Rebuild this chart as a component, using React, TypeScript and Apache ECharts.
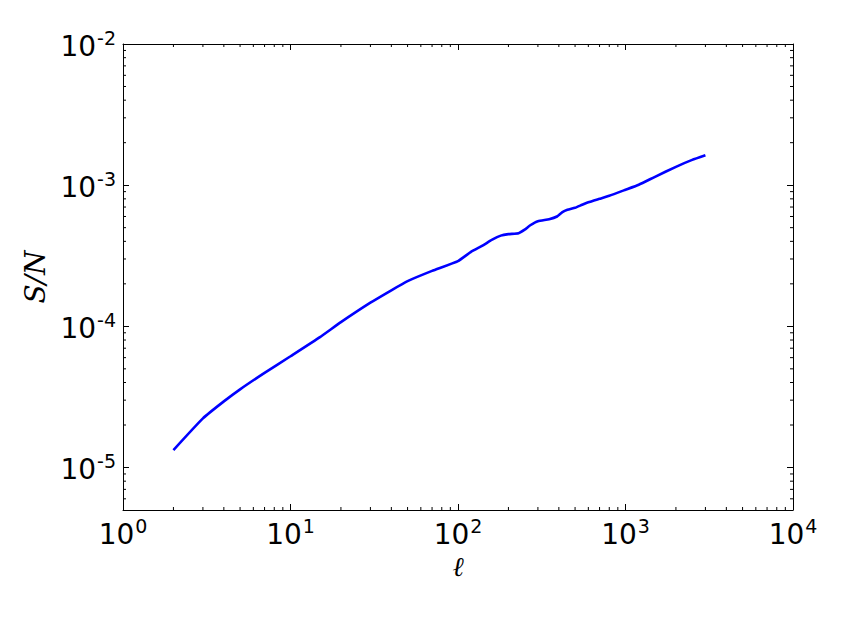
import React, { useEffect, useRef } from "react";
import * as echarts from "echarts";

const ELL = [2, 3, 4, 5, 7, 10, 15, 20, 30, 40, 50, 70, 100, 120, 140, 160, 180, 200, 230, 250, 270, 300, 350, 390, 420, 450, 500, 550, 600, 700, 800, 1000, 1200, 1500, 2000, 2500, 3000];
const SN = [1.33e-5, 2.23e-5, 2.94e-5, 3.58e-5, 4.68e-5, 6.14e-5, 8.39e-5, 1.07e-4, 1.47e-4, 1.8e-4, 2.09e-4, 2.47e-4, 2.9e-4, 3.38e-4, 3.73e-4, 4.11e-4, 4.39e-4, 4.5e-4, 4.57e-4, 4.84e-4, 5.2e-4, 5.56e-4, 5.74e-4, 6.0e-4, 6.45e-4, 6.7e-4, 6.92e-4, 7.26e-4, 7.57e-4, 8.01e-4, 8.41e-4, 9.28e-4, 1.007e-3, 1.146e-3, 1.349e-3, 1.51e-3, 1.63e-3];

const X_MIN = 1;
const X_MAX = 1e4;
const Y_MIN = 5e-6;
const Y_MAX = 1e-2;

const X_MINOR: number[] = [];
for (let k = 0; k < 4; k++) for (let m = 2; m <= 9; m++) X_MINOR.push(m * Math.pow(10, k));
const Y_MINOR: number[] = [];
for (let k = -6; k < -2; k++)
  for (let m = 2; m <= 9; m++) {
    const v = m * Math.pow(10, k);
    if (v > Y_MIN * 1.0001 && v < Y_MAX) Y_MINOR.push(v);
  }

function pow10Label(v: number) {
  const e = Math.log10(v);
  const r = Math.round(e);
  if (Math.abs(e - r) > 1e-6) return "";
  return "{b|10}{s|" + r + "}";
}

const richLabel = {
  b: { fontSize: 28, fontFamily: "DejaVu Sans", color: "#000", verticalAlign: "bottom", lineHeight: 32 },
  s: { fontSize: 19, fontFamily: "DejaVu Sans", color: "#000", verticalAlign: "top", lineHeight: 20, padding: [0, 0, 0, 1] },
};

export default function App() {
  const ref = useRef<HTMLDivElement>(null);
  useEffect(() => {
    document.body.style.margin = "0";
    const chart = echarts.init(ref.current!, null, { renderer: "svg" });
    const axisLine = { show: true, lineStyle: { color: "#000", width: 1 } };
    const option: any = {
      animation: false,
      backgroundColor: "#fff",
      grid: { left: 123, right: 51, top: 44, bottom: 118, containLabel: false },
      xAxis: [
        {
          type: "log",
          min: X_MIN,
          max: X_MAX,
          position: "bottom",
          axisLine,
          splitLine: { show: false },
          axisTick: { show: true, inside: true, length: 6, lineStyle: { color: "#000" } },
          axisLabel: { formatter: pow10Label, rich: richLabel, margin: 6, color: "#000" },
          name: "ℓ",
          nameLocation: "middle",
          nameGap: 40,
          nameTextStyle: { fontFamily: "DejaVu Serif", fontStyle: "italic", fontSize: 27, color: "#000" },
        },
        {
          type: "log",
          min: X_MIN,
          max: X_MAX,
          position: "top",
          axisLine,
          splitLine: { show: false },
          axisTick: { show: true, inside: true, length: 6, lineStyle: { color: "#000" } },
          axisLabel: { show: false },
        },
      ],
      yAxis: [
        {
          type: "log",
          min: Y_MIN,
          max: Y_MAX,
          position: "left",
          axisLine,
          splitLine: { show: false },
          axisTick: { show: true, inside: true, length: 6, lineStyle: { color: "#000" } },
          axisLabel: { formatter: pow10Label, rich: richLabel, margin: 7, color: "#000" },
          name: "S/N",
          nameLocation: "middle",
          nameGap: 74,
          nameTextStyle: { fontFamily: "DejaVu Serif", fontStyle: "italic", fontSize: 28, color: "#000" },
        },
        {
          type: "log",
          min: Y_MIN,
          max: Y_MAX,
          position: "right",
          axisLine,
          splitLine: { show: false },
          axisTick: { show: true, inside: true, length: 6, lineStyle: { color: "#000" } },
          axisLabel: { show: false },
        },
      ],
      series: [
        {
          type: "line",
          data: ELL.map((l, i) => [l, SN[i]]),
          showSymbol: false,
          smooth: 0.15,
          lineStyle: { color: "#0000ff", width: 2.6 },
          xAxisIndex: 0,
          yAxisIndex: 0,
          silent: true,
        },
        {
          type: "custom",
          xAxisIndex: 0,
          yAxisIndex: 0,
          data: X_MINOR.map((v) => [v, 1e-3]),
          silent: true,
          renderItem: (params: any, api: any) => {
            const cs = params.coordSys;
            const x = api.coord([api.value(0), 1e-3])[0];
            return {
              type: "group",
              children: [
                { type: "line", shape: { x1: x, y1: cs.y + cs.height, x2: x, y2: cs.y + cs.height - 3 }, style: { stroke: "#000", lineWidth: 1 } },
                { type: "line", shape: { x1: x, y1: cs.y, x2: x, y2: cs.y + 3 }, style: { stroke: "#000", lineWidth: 1 } },
              ],
            };
          },
        },
        {
          type: "custom",
          xAxisIndex: 0,
          yAxisIndex: 0,
          data: Y_MINOR.map((v) => [10, v]),
          silent: true,
          renderItem: (params: any, api: any) => {
            const cs = params.coordSys;
            const y = api.coord([10, api.value(1)])[1];
            return {
              type: "group",
              children: [
                { type: "line", shape: { x1: cs.x, y1: y, x2: cs.x + 3, y2: y }, style: { stroke: "#000", lineWidth: 1 } },
                { type: "line", shape: { x1: cs.x + cs.width, y1: y, x2: cs.x + cs.width - 3, y2: y }, style: { stroke: "#000", lineWidth: 1 } },
              ],
            };
          },
        },
      ],
    };
    chart.setOption(option);
    return () => chart.dispose();
  }, []);
  return <div ref={ref} style={{ width: 844, height: 628 }} />;
}
